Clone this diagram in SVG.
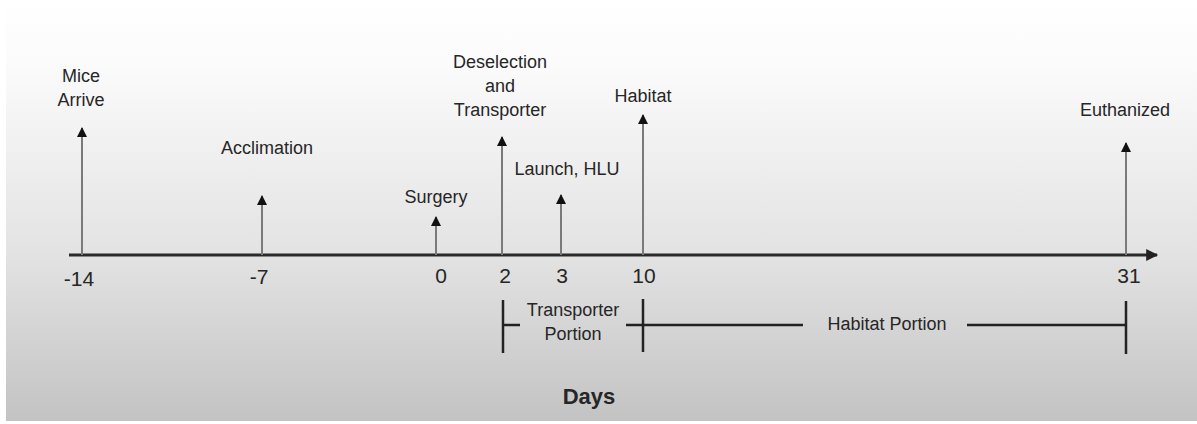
<svg xmlns="http://www.w3.org/2000/svg" width="1197" height="424" viewBox="0 0 1197 424">
<defs>
<linearGradient id="bg" x1="0" y1="0" x2="0" y2="1">
<stop offset="0" stop-color="#ffffff"/>
<stop offset="0.15" stop-color="#fbfbfb"/>
<stop offset="0.6" stop-color="#e3e3e3"/>
<stop offset="1" stop-color="#c3c3c3"/>
</linearGradient>
<marker id="ah" viewBox="0 0 10 10" refX="9" refY="5" markerWidth="10" markerHeight="10" markerUnits="userSpaceOnUse" orient="auto">
<path d="M0,0 L10,5 L0,10 Z" fill="#111"/>
</marker>
<marker id="axh" viewBox="0 0 10 10" refX="9" refY="5" markerWidth="14" markerHeight="12" markerUnits="userSpaceOnUse" orient="auto">
<path d="M0,0 L10,5 L0,10 Z" fill="#222"/>
</marker>
</defs>
<style>
text{font-family:"Liberation Sans",Arial,sans-serif;fill:#262626;text-anchor:middle}
.lab{font-size:18px}
.tick{font-size:21px}
.days{font-size:22px;font-weight:bold}
.stem{stroke:#7a7a7a;stroke-width:2;fill:none}
.axis{stroke:#2a2a2a;stroke-width:3;fill:none}
.br{stroke:#222;stroke-width:2.5;fill:none}
</style>
<rect x="0" y="0" width="1197" height="424" fill="#ffffff"/>
<rect x="6" y="0" width="1191" height="421" fill="url(#bg)"/>

<g id="connectors">
<line class="axis" x1="69" y1="255" x2="1157" y2="255" marker-end="url(#axh)"/>
<line class="stem" x1="82" y1="255" x2="82" y2="128" marker-end="url(#ah)"/>
<line class="stem" x1="262" y1="255" x2="262" y2="196" marker-end="url(#ah)"/>
<line class="stem" x1="436" y1="255" x2="436" y2="217" marker-end="url(#ah)"/>
<line class="stem" x1="502" y1="255" x2="502" y2="137" marker-end="url(#ah)"/>
<line class="stem" x1="561" y1="255" x2="561" y2="195" marker-end="url(#ah)"/>
<line class="stem" x1="643" y1="255" x2="643" y2="115" marker-end="url(#ah)"/>
<line class="stem" x1="1126" y1="255" x2="1126" y2="143" marker-end="url(#ah)"/>
</g>

<g id="ticks">
<text class="tick" x="79" y="286">-14</text>
<text class="tick" x="259" y="284">-7</text>
<text class="tick" x="441" y="283">0</text>
<text class="tick" x="505" y="283">2</text>
<text class="tick" x="562" y="283">3</text>
<text class="tick" x="644" y="283">10</text>
<text class="tick" x="1129" y="283">31</text>
</g>

<g id="mice-arrive"><text class="lab" x="81" y="82">Mice</text><text class="lab" x="81" y="106">Arrive</text></g>
<g id="acclimation"><text class="lab" x="267" y="154">Acclimation</text></g>
<g id="surgery"><text class="lab" x="436" y="203">Surgery</text></g>
<g id="deselection"><text class="lab" x="500" y="68">Deselection</text><text class="lab" x="500" y="92">and</text><text class="lab" x="500" y="116">Transporter</text></g>
<g id="launch"><text class="lab" x="567" y="175">Launch, HLU</text></g>
<g id="habitat"><text class="lab" x="643" y="102">Habitat</text></g>
<g id="euthanized"><text class="lab" x="1125" y="116">Euthanized</text></g>

<g id="transporter-portion">
<line class="br" x1="503" y1="300" x2="503" y2="353"/>
<line class="br" x1="503" y1="325" x2="520" y2="325"/>
<text class="lab" x="573" y="316">Transporter</text>
<text class="lab" x="573" y="340">Portion</text>
</g>
<g id="habitat-portion">
<line class="br" x1="643" y1="299" x2="643" y2="352"/>
<line class="br" x1="626" y1="325" x2="803" y2="325"/>
<text class="lab" x="887" y="330">Habitat Portion</text>
<line class="br" x1="967" y1="325" x2="1126" y2="325"/>
<line class="br" x1="1126" y1="301" x2="1126" y2="354"/>
</g>
<g id="days"><text class="days" x="589" y="404">Days</text></g>
</svg>
